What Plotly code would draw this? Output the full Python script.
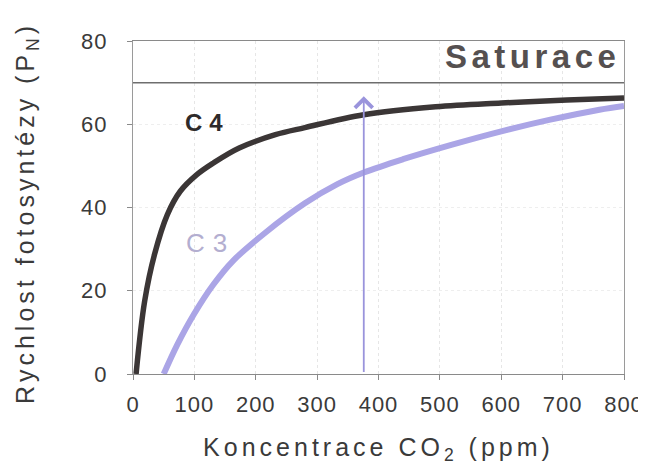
import plotly.graph_objects as go

# Data
c4_x = [5, 19, 35, 56, 77, 104, 131, 173, 232, 280, 376, 493, 600, 707, 800]
c4_y = [0, 17.5, 28.7, 38.3, 43.9, 47.9, 50.7, 54.3, 57.5, 59.2, 62.3, 64.2, 65.1, 65.8, 66.3]

c3_x = [50, 72, 99, 131, 163, 216, 280, 333, 376, 440, 520, 600, 680, 760, 800]
c3_y = [0, 7, 14.3, 21.5, 27.2, 34.0, 41.0, 45.6, 48.4, 51.6, 55.1, 58.3, 61.1, 63.5, 64.4]

x_ticks = [0, 100, 200, 300, 400, 500, 600, 700, 800]
y_ticks = [0, 20, 40, 60, 80]

saturation_level = 70
arrow_x = [376, 376]
arrow_y = [0, 66.7]

label_c4 = ("C4", 122, 60.5)
label_c3 = ("C3", 127, 31.4)
label_sat = ("Saturace", 768, 76.2)
x_title = "Koncentrace CO<sub>2</sub> (ppm)"
y_title = "Rychlost fotosyntézy (P<sub>N</sub>)"

FONT = "Liberation Sans, Arial, sans-serif"

fig = go.Figure()
fig.add_trace(go.Scatter(x=c3_x, y=c3_y, mode="lines",
                         line=dict(color="#aba5e6", width=6, shape="spline"),
                         hoverinfo="skip", showlegend=False))
fig.add_trace(go.Scatter(x=c4_x, y=c4_y, mode="lines",
                         line=dict(color="#3b3636", width=5.5, shape="spline"),
                         hoverinfo="skip", showlegend=False))

# saturation line
fig.add_shape(type="line", xref="x", yref="y", x0=x_ticks[0], x1=x_ticks[-1],
              y0=saturation_level, y1=saturation_level,
              line=dict(color="#6e6e6e", width=1.5))

fig.add_annotation(x=label_c4[1], y=label_c4[2], text="<b>" + label_c4[0] + "</b>",
                   showarrow=False, font=dict(family=FONT, size=24, color="#2e2a2a"))
fig.add_annotation(x=label_c3[1], y=label_c3[2], text=label_c3[0],
                   showarrow=False, font=dict(family=FONT, size=26, color="#b3aed0"))
fig.add_annotation(x=label_sat[1], y=label_sat[2], text="<b>" + label_sat[0] + "</b>",
                   xanchor="right", yanchor="middle",
                   showarrow=False, font=dict(family=FONT, size=33, color="#555050"))
# y-axis title as rotated text
fig.add_annotation(xref="paper", yref="paper", x=-0.216, y=0.483, text=y_title,
                   textangle=-90, showarrow=False, xanchor="center", yanchor="middle",
                   font=dict(family=FONT, size=25, color="#3a3a3a"))
# arrow (current CO2 level)
fig.add_annotation(x=arrow_x[1], y=arrow_y[1], ax=arrow_x[0], ay=arrow_y[0],
                   xref="x", yref="y", axref="x", ayref="y",
                   showarrow=True, arrowhead=4, arrowsize=1.9, arrowwidth=1.8,
                   arrowcolor="#9a94dc", text=" ", font=dict(size=1))

fig.update_layout(
    width=646, height=467,
    margin=dict(l=125, r=21, t=33, b=101),
    paper_bgcolor="white", plot_bgcolor="white",
    font=dict(family=FONT, color="#3a3a3a"),
    xaxis=dict(range=[0, 800], tickvals=x_ticks, ticktext=[str(v) for v in x_ticks],
               showline=True, linecolor="#8a8a8a", linewidth=1.2, mirror=True,
               ticks="outside", ticklen=5, tickcolor="#8a8a8a", ticklabelstandoff=5,
               showgrid=True, gridcolor="#e6e6e6", griddash="dot", gridwidth=1,
               zeroline=False, tickfont=dict(size=22, color="#3a3a3a"),
               title=dict(text=x_title, standoff=22,
                          font=dict(size=25, color="#3a3a3a"))),
    yaxis=dict(range=[0, 80], tickvals=y_ticks, ticktext=[str(v) for v in y_ticks],
               showline=True, linecolor="#9a9a9a", linewidth=1.2, mirror=True,
               ticks="outside", ticklen=5, tickcolor="#8a8a8a", ticklabelstandoff=15,
               showgrid=True, gridcolor="#eeeeee", griddash="dot", gridwidth=1,
               zeroline=False, tickfont=dict(size=22, color="#3a3a3a")),
)

post_script = """
var gd = document.getElementById('{plot_id}');
function spacing(){
  gd.querySelectorAll('.xtick text, .ytick text').forEach(function(t){t.style.letterSpacing='1px';});
  gd.querySelectorAll('text.xtitle, text.ytitle').forEach(function(t){t.style.letterSpacing='4px';});
  var sp = {'0':'7px','1':'8px','2':'4.5px','3':'4px'};
  gd.querySelectorAll('.annotation').forEach(function(a){
    var i = a.getAttribute('data-index');
    if (sp[i]) { a.querySelectorAll('text').forEach(function(t){t.style.letterSpacing=sp[i];}); }
  });
}
spacing();
if (gd.on) { gd.on('plotly_afterplot', spacing); }
"""

fig.write_html("out.html", post_script=post_script)
